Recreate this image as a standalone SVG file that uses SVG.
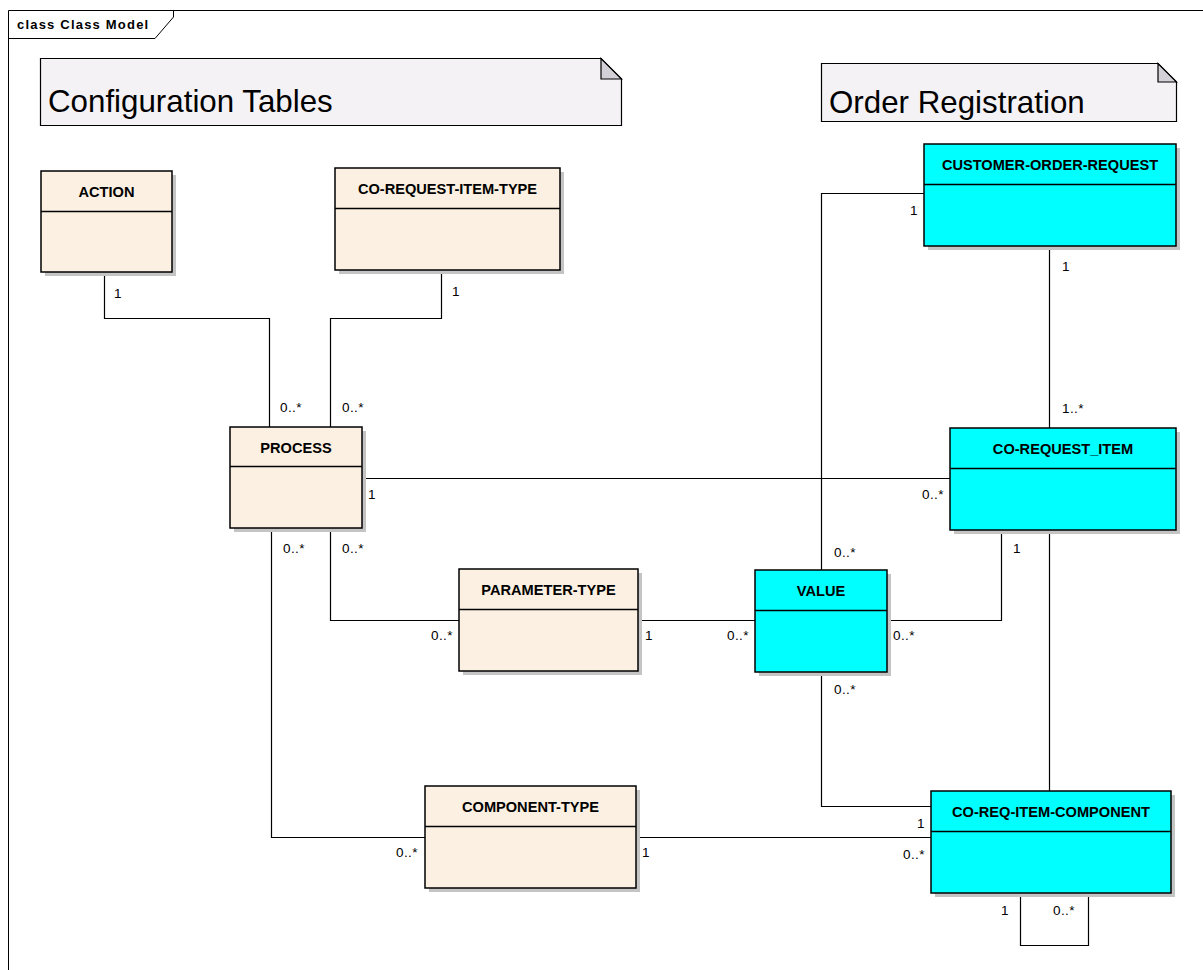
<svg xmlns="http://www.w3.org/2000/svg" width="1203" height="970" viewBox="0 0 1203 970">
  <style>
    .frame { fill: none; stroke: #000; stroke-width: 1; }
    .note { fill: #F5F2F6; stroke: #000; stroke-width: 1.2; }
    .fold { fill: #D4D0D8; stroke: #000; stroke-width: 1.2; }
    .shadow { fill: #C4C4C4; }
    .cfg { fill: #FBF0E1; stroke: #000; stroke-width: 1.5; }
    .ord { fill: #00FFFF; stroke: #000; stroke-width: 1.5; }
    .div { stroke: #000; stroke-width: 1.5; }
    .edge { fill: none; stroke: #000; stroke-width: 1.2; }
    .name { font-family: "Liberation Sans", Arial, sans-serif; font-weight: bold; font-size: 14.6px; text-anchor: middle; fill: #000; }
    .mult { font-family: "Liberation Sans", Arial, sans-serif; font-size: 13.5px; letter-spacing: 0.4px; fill: #000; }
    .title { font-family: "Liberation Sans", Arial, sans-serif; font-size: 31.3px; fill: #000; }
    .frametitle { font-family: "Liberation Sans", Arial, sans-serif; font-weight: bold; font-size: 13px; letter-spacing: 1.2px; fill: #000; }
  </style>

  <rect x="0" y="0" width="1203" height="970" fill="#fff"/>

  <!-- diagram frame -->
  <g id="frame">
    <path class="frame" d="M8.5,975 V10.5 H1210"/>
    <path class="frame" d="M8.5,38.5 H155 L173.5,17 V10.5"/>
    <text class="frametitle" x="17" y="29">class Class Model</text>
  </g>

  <!-- package notes -->
  <g id="note-config">
    <path class="note" d="M40.5,58.5 H601 L621.5,79 V125.5 H40.5 Z"/>
    <path class="fold" d="M601,58.5 V79 H621.5 Z"/>
    <text class="title" x="48" y="112">Configuration Tables</text>
  </g>
  <g id="note-order">
    <path class="note" d="M821.5,63.5 H1158 L1176.5,82 V121.5 H821.5 Z"/>
    <path class="fold" d="M1158,63.5 V82 H1176.5 Z"/>
    <text class="title" x="829" y="113">Order Registration</text>
  </g>

  <!-- associations -->
  <g id="connectors">
    <!-- ACTION - PROCESS -->
    <path class="edge" d="M104.5,273 V318.5 H269.5 V427"/>
    <text class="mult" x="114" y="298">1</text>
    <text class="mult" x="280" y="412">0..*</text>
    <!-- CO-REQUEST-ITEM-TYPE - PROCESS -->
    <path class="edge" d="M441.5,270 V318.5 H330.5 V427"/>
    <text class="mult" x="452" y="296">1</text>
    <text class="mult" x="342" y="412">0..*</text>
    <!-- PROCESS - CO-REQUEST_ITEM -->
    <path class="edge" d="M362,478.5 H950"/>
    <text class="mult" x="368" y="499">1</text>
    <text class="mult" x="922" y="499">0..*</text>
    <!-- PROCESS - PARAMETER-TYPE -->
    <path class="edge" d="M330.5,528 V620.5 H459"/>
    <text class="mult" x="342" y="553">0..*</text>
    <text class="mult" x="431" y="640">0..*</text>
    <!-- PROCESS - COMPONENT-TYPE -->
    <path class="edge" d="M271.5,528 V837.5 H425"/>
    <text class="mult" x="283" y="553">0..*</text>
    <text class="mult" x="396" y="857">0..*</text>
    <!-- PARAMETER-TYPE - VALUE -->
    <path class="edge" d="M638,620.5 H755"/>
    <text class="mult" x="645" y="640">1</text>
    <text class="mult" x="727" y="640">0..*</text>
    <!-- VALUE - CO-REQUEST_ITEM -->
    <path class="edge" d="M887,620.5 H1001.5 V530"/>
    <text class="mult" x="893" y="640">0..*</text>
    <text class="mult" x="1013" y="553">1</text>
    <!-- VALUE - CUSTOMER-ORDER-REQUEST -->
    <path class="edge" d="M821.5,570 V193.5 H924"/>
    <text class="mult" x="834" y="557">0..*</text>
    <text class="mult" x="910" y="215">1</text>
    <!-- CUSTOMER-ORDER-REQUEST - CO-REQUEST_ITEM -->
    <path class="edge" d="M1049.5,246 V428"/>
    <text class="mult" x="1062" y="271">1</text>
    <text class="mult" x="1062" y="413">1..*</text>
    <!-- CO-REQUEST_ITEM - CO-REQ-ITEM-COMPONENT -->
    <path class="edge" d="M1049.5,530 V791"/>
    <!-- VALUE - CO-REQ-ITEM-COMPONENT -->
    <path class="edge" d="M821.5,672 V806.5 H931"/>
    <text class="mult" x="834" y="694">0..*</text>
    <text class="mult" x="917" y="828">1</text>
    <!-- COMPONENT-TYPE - CO-REQ-ITEM-COMPONENT -->
    <path class="edge" d="M636,837.5 H931"/>
    <text class="mult" x="642" y="857">1</text>
    <text class="mult" x="903" y="859">0..*</text>
    <!-- CO-REQ-ITEM-COMPONENT self association -->
    <path class="edge" d="M1020.5,893 V945.5 H1088.5 V893"/>
    <text class="mult" x="1001" y="915">1</text>
    <text class="mult" x="1053" y="915">0..*</text>
  </g>

  <!-- configuration classes -->
  <g id="ACTION">
    <rect class="shadow" x="45" y="175" width="131" height="101"/>
    <rect class="cfg" x="41" y="171" width="131" height="101"/>
    <line class="div" x1="41" y1="211.5" x2="172" y2="211.5"/>
    <text class="name" x="106.5" y="197">ACTION</text>
  </g>
  <g id="CO-REQUEST-ITEM-TYPE">
    <rect class="shadow" x="339" y="172" width="225" height="102"/>
    <rect class="cfg" x="335" y="168" width="225" height="102"/>
    <line class="div" x1="335" y1="208.5" x2="560" y2="208.5"/>
    <text class="name" x="447.5" y="194">CO-REQUEST-ITEM-TYPE</text>
  </g>
  <g id="PROCESS">
    <rect class="shadow" x="234" y="431" width="132" height="101"/>
    <rect class="cfg" x="230" y="427" width="132" height="101"/>
    <line class="div" x1="230" y1="466.5" x2="362" y2="466.5"/>
    <text class="name" x="296" y="453">PROCESS</text>
  </g>
  <g id="PARAMETER-TYPE">
    <rect class="shadow" x="463" y="573" width="179" height="102"/>
    <rect class="cfg" x="459" y="569" width="179" height="102"/>
    <line class="div" x1="459" y1="609.5" x2="638" y2="609.5"/>
    <text class="name" x="548.5" y="595">PARAMETER-TYPE</text>
  </g>
  <g id="COMPONENT-TYPE">
    <rect class="shadow" x="429" y="790" width="211" height="102"/>
    <rect class="cfg" x="425" y="786" width="211" height="102"/>
    <line class="div" x1="425" y1="826.5" x2="636" y2="826.5"/>
    <text class="name" x="530.5" y="812">COMPONENT-TYPE</text>
  </g>

  <!-- order registration classes -->
  <g id="CUSTOMER-ORDER-REQUEST">
    <rect class="shadow" x="928" y="148" width="252" height="102"/>
    <rect class="ord" x="924" y="144" width="252" height="102"/>
    <line class="div" x1="924" y1="184.5" x2="1176" y2="184.5"/>
    <text class="name" x="1050" y="170">CUSTOMER-ORDER-REQUEST</text>
  </g>
  <g id="CO-REQUEST_ITEM">
    <rect class="shadow" x="954" y="432" width="226" height="102"/>
    <rect class="ord" x="950" y="428" width="226" height="102"/>
    <line class="div" x1="950" y1="468.5" x2="1176" y2="468.5"/>
    <text class="name" x="1063" y="454">CO-REQUEST_ITEM</text>
  </g>
  <g id="VALUE">
    <rect class="shadow" x="759" y="574" width="132" height="102"/>
    <rect class="ord" x="755" y="570" width="132" height="102"/>
    <line class="div" x1="755" y1="610.5" x2="887" y2="610.5"/>
    <text class="name" x="821" y="596">VALUE</text>
  </g>
  <g id="CO-REQ-ITEM-COMPONENT">
    <rect class="shadow" x="935" y="795" width="240" height="102"/>
    <rect class="ord" x="931" y="791" width="240" height="102"/>
    <line class="div" x1="931" y1="831.5" x2="1171" y2="831.5"/>
    <text class="name" x="1051" y="817">CO-REQ-ITEM-COMPONENT</text>
  </g>
</svg>
